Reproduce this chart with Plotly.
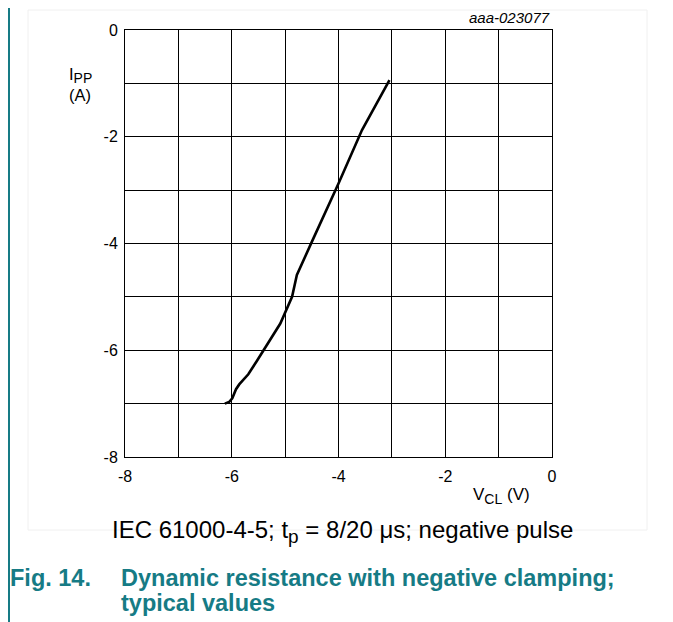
import plotly.graph_objects as go

v_cl = [-6.13, -6.05, -5.99, -5.92, -5.86, -5.69, -5.53, -5.09, -4.87, -4.78, -4.5, -4.0, -3.56, -3.045]
i_pp = [-7.0, -6.97, -6.9, -6.73, -6.64, -6.45, -6.2, -5.5, -5.0, -4.59, -3.97, -2.875, -1.875, -0.94]
tick_vals = [-8, -6, -4, -2, 0]
tick_text = ["-8", "-6", "-4", "-2", "0"]

TEAL = "#167b85"
FONT = "Liberation Sans, Arial, sans-serif"

OFF = 8  # page body margin
W, H = 662, 614
L, T = 125 - OFF, 30 - OFF
pw = ph = 427
R, B = W - L - pw, H - T - ph

def px(x):
    return (x - OFF - L) / pw

def py(y):
    return 1 - (y - OFF - T) / ph

fig = go.Figure()
fig.add_trace(go.Scatter(x=v_cl, y=i_pp, mode="lines",
                         line=dict(color="black", width=2.6), showlegend=False,
                         hoverinfo="skip"))

axis_common = dict(range=[-8, 0], tickvals=tick_vals, ticktext=tick_text,
                   showgrid=True, gridcolor="black", gridwidth=1,
                   showline=True, linecolor="black", linewidth=1, mirror=True,
                   zeroline=False, ticks="",
                   minor=dict(dtick=1, tick0=0, showgrid=True, gridcolor="black", gridwidth=1),
                   tickfont=dict(family=FONT, size=16, color="black"))

fig.update_xaxes(**axis_common, ticklabelstandoff=5)
fig.update_yaxes(**axis_common, ticklabelstandoff=3)

def ann(x, y, text, xanchor, size, color="black", align="left"):
    return dict(x=px(x), y=py(y), xref="paper", yref="paper", text=text, showarrow=False,
                xanchor=xanchor, yanchor="middle", align=align,
                font=dict(family=FONT, size=size, color=color))

annotations = [
    ann(552, 18, "<i>aaa-023077</i>", "right", 15),
    ann(67, 84, "I<sub><span style='font-size:14px'>PP</span></sub><br>(A)", "left", 16.5),
    ann(471, 496, "V<sub><span style='font-size:14px'>CL</span></sub> (V)", "left", 17),
    ann(342.5, 531, "IEC 61000-4-5; t<sub><span style='font-size:19px'>p</span></sub> = 8/20 μs; negative pulse", "center", 24),
    ann(8, 578, "<b>Fig. 14.</b>", "left", 23.5, TEAL),
    ann(119, 578, "<b>Dynamic resistance with negative clamping;</b>", "left", 23.5, TEAL),
    ann(119, 603, "<b>typical values</b>", "left", 23.5, TEAL),
]

shapes = [
    dict(type="rect", xref="paper", yref="paper", x0=px(28), x1=px(647), y0=py(10), y1=py(530),
         line=dict(color="#f0f0f0", width=1), layer="below"),
    dict(type="line", xref="paper", yref="paper", x0=px(9), x1=px(9), y0=py(0), y1=py(630),
         line=dict(color=TEAL, width=2)),
    dict(type="line", xref="paper", yref="paper", x0=px(668.5), x1=px(668.5), y0=py(0), y1=py(630),
         line=dict(color=TEAL, width=1.5)),
]

fig.update_layout(width=W, height=H, margin=dict(l=L, r=R, t=T, b=B),
                  paper_bgcolor="white", plot_bgcolor="white",
                  annotations=annotations, shapes=shapes,
                  font=dict(family=FONT))

fig.write_html("out.html")
